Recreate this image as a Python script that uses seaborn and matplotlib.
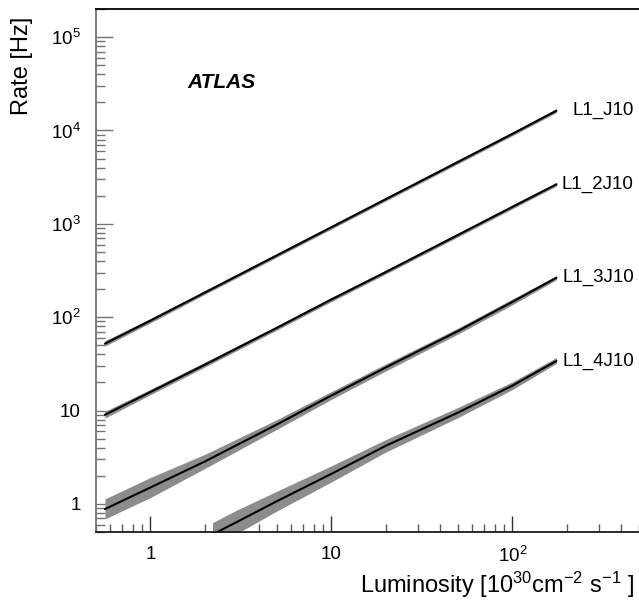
import pandas as pd
import seaborn as sns
import matplotlib.pyplot as plt

# values (luminosity in 1e30 cm^-2 s^-1, rate in Hz)
lumi = [0.56, 1, 2, 5, 10, 20, 50, 100, 175]
lumi_4j = [2.2, 3, 5, 10, 20, 50, 100, 175]

j10 = [52, 92, 184, 460, 920, 1840, 4600, 9200, 16300]
j10_lo = [49, 87, 176, 440, 880, 1760, 4400, 8800, 15600]
j10_hi = [56, 97, 193, 482, 965, 1930, 4830, 9650, 17100]

j2 = [9.0, 15.8, 31, 77, 155, 305, 760, 1520, 2650]
j2_lo = [8.3, 14.8, 29.3, 73, 147, 291, 725, 1450, 2540]
j2_hi = [9.8, 16.9, 33, 81, 163, 320, 797, 1595, 2770]

j3 = [0.88, 1.5, 2.85, 7.1, 14.5, 29, 71, 146, 265]
j3_lo = [0.69, 1.17, 2.4, 6.3, 13.2, 26.6, 66, 136, 252]
j3_hi = [1.13, 1.92, 3.4, 8.0, 16.0, 31.6, 76.5, 157, 278]

j4 = [0.47, 0.64, 1.07, 2.1, 4.2, 9.5, 18.5, 34]
j4_lo = [0.35, 0.48, 0.84, 1.72, 3.6, 8.4, 16.8, 32]
j4_hi = [0.63, 0.86, 1.37, 2.56, 4.9, 10.8, 20.3, 37]

names = ["L1_J10", "L1_2J10", "L1_3J10", "L1_4J10"]
xticks = [1, 10, 100]
xticklabels = ["1", "10", "$10^{2}$"]
yticks = [1, 10, 100, 1e3, 1e4, 1e5]
yticklabels = ["1", "10", "$10^{2}$", "$10^{3}$", "$10^{4}$", "$10^{5}$"]

series = [(lumi, j10, j10_lo, j10_hi), (lumi, j2, j2_lo, j2_hi),
          (lumi, j3, j3_lo, j3_hi), (lumi_4j, j4, j4_lo, j4_hi)]

rows = []
for name, (xs, ys, lo, hi) in zip(names, series):
    for x, y, l, h in zip(xs, ys, lo, hi):
        rows.append({"lumi": x, "rate": y, "lo": l, "hi": h, "trigger": name})
df = pd.DataFrame(rows)

sns.set_style("white")
plt.rcParams["font.family"] = ["Liberation Sans", "DejaVu Sans"]
plt.rcParams["mathtext.default"] = "regular"
plt.rcParams["text.color"] = "black"
plt.rcParams["xtick.color"] = "black"
plt.rcParams["ytick.color"] = "black"

fig = plt.figure(figsize=(6.39, 6.02), dpi=100)
ax = fig.add_axes([96 / 639, 70 / 602, 543 / 639, 523 / 602])

for name in names:
    d = df[df.trigger == name]
    ax.fill_between(d.lumi, d.lo, d.hi, color="0.55", lw=0)

sns.lineplot(data=df, x="lumi", y="rate", hue="trigger", palette=["black"] * 4,
             estimator=None, lw=1.5, legend=False, ax=ax)

ax.set_xscale("log")
ax.set_yscale("log")
ax.set_xlim(0.5, 500)
ax.set_ylim(0.5, 2e5)

ax.set_xticks(xticks)
ax.set_xticklabels(xticklabels)
ax.set_yticks(yticks)
ax.set_yticklabels(yticklabels)
ax.tick_params(which="both", direction="in", bottom=True, left=True,
               top=False, right=False, labelsize=13.5, labelcolor="black")
ax.tick_params(axis="y", which="major", length=12, width=1, color="0.45", pad=11)
ax.tick_params(axis="y", which="minor", length=6.5, width=1, color="0.45")
ax.tick_params(axis="x", which="major", length=11.5, width=1, color="0.2", pad=10)
ax.tick_params(axis="x", which="minor", length=6, width=1, color="0.35")

ax.spines["right"].set_visible(False)
ax.spines["left"].set_color("0.45")
ax.spines["bottom"].set_color("0.1")
ax.spines["top"].set_color("black")
for s in ax.spines.values():
    s.set_linewidth(1.3)

ax.set_xlabel("")
ax.set_ylabel("")

for name, (xs, ys, lo, hi) in zip(names, series):
    ax.text(468, ys[-1], name, ha="right", va="center", fontsize=13.5)

fig.text(221 / 639, 1 - 82 / 602, "ATLAS", ha="center", va="center",
         fontsize=15, fontweight="bold", fontstyle="italic")
fig.text(22 / 639, 1 - 17 / 602, "Rate [Hz]", rotation=90, ha="center", va="top",
         fontsize=17)
fig.text(634 / 639, 1 - 585 / 602, "Luminosity [10$^{30}$cm$^{-2}$ s$^{-1}$ ]",
         ha="right", va="center", fontsize=17)

fig.savefig("out.png", dpi=100)
